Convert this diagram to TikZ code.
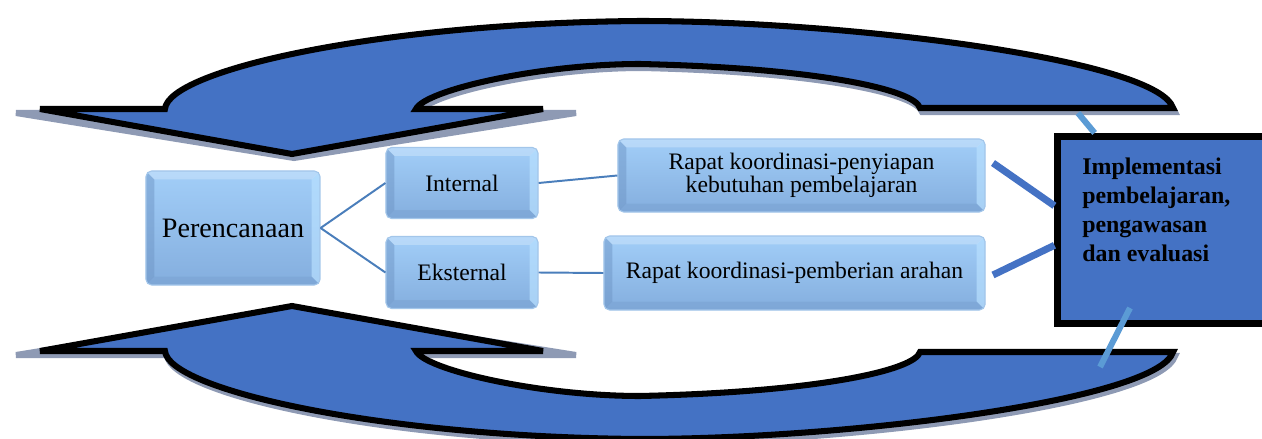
\documentclass[tikz,border=0pt]{standalone}
\usepackage{fontspec}
\setmainfont{Liberation Serif}
\usetikzlibrary{shadows}

\definecolor{birutua}{HTML}{4472C4}
\definecolor{birumuda}{HTML}{5B9BD5}
\definecolor{garis}{HTML}{4A7EBB}
\definecolor{bayang}{HTML}{8E9AB4}
\definecolor{kotakatas}{HTML}{A2CEF8}
\definecolor{kotakbawah}{HTML}{84AEDE}
\definecolor{tepikiri}{HTML}{6F96C6}
\definecolor{tepikanan}{HTML}{B8E0FF}
\definecolor{tepi}{HTML}{A3C6EA}

\newcommand{\ppbb}{path picture bounding box}
% contorno della freccia curva (x delle due punte)
\newcommand{\jalurpanah}[2]{(292,154) -- (#1,109) -- (165,109)
  .. controls (168,70) and (380,23) .. (640,21)
  .. controls (850,21) and (1158,60) .. (1173,108) -- (920,108)
  .. controls (915,90) and (820,68) .. (640,64)
  .. controls (540,64) and (425,90) .. (416,109) -- (#2,109) -- cycle}

\tikzset{
  blok/.style={rounded corners=4pt, draw=tepi, line width=.8pt,
    top color=kotakatas, bottom color=kotakbawah, align=center, inner sep=2pt,
    font=\fontsize{16.8}{16.5}\selectfont,
    path picture={
      \fill[sharp corners, tepikiri, opacity=.5] (\ppbb.north west) -- ([shift={(6pt,-6pt)}]\ppbb.north west)
        -- ([shift={(6pt,6pt)}]\ppbb.south west) -- (\ppbb.south west) -- cycle;
      \fill[sharp corners, tepikanan, opacity=.7] (\ppbb.north east) -- ([shift={(-6pt,-6pt)}]\ppbb.north east)
        -- ([shift={(-6pt,6pt)}]\ppbb.south east) -- (\ppbb.south east) -- cycle;
      \fill[sharp corners, tepikiri, opacity=.3] (\ppbb.south west) -- ([shift={(6pt,6pt)}]\ppbb.south west)
        -- ([shift={(-6pt,6pt)}]\ppbb.south east) -- (\ppbb.south east) -- cycle;
      \fill[sharp corners, white, opacity=.25] (\ppbb.north west) -- ([shift={(6pt,-6pt)}]\ppbb.north west)
        -- ([shift={(-6pt,-6pt)}]\ppbb.north east) -- (\ppbb.north east) -- cycle;
    }},
  panahbiru/.style={fill=birutua, draw=black, line width=4.3pt},
  bayangan/.style={fill=bayang, draw=bayang, line width=4.3pt},
  tipis/.style={draw=garis, line width=1.4pt},
  tebal/.style={draw=birutua, line width=5pt},
  muda/.style={draw=birumuda, line width=4.3pt}
}

\begin{document}
\begin{tikzpicture}[x=0.025cm, y=-0.025cm]
    \useasboundingbox (0,0) rectangle (1262,439);

    % Frecce del ciclo (sopra e specchiata sotto)
    \foreach \cermin/\geser/\turun in {1/0/4,-1/460/-4}{
        \begin{scope}[shift={(0,\geser)}, yscale=\cermin]
            \draw[bayangan, shift={(2,\turun)}] \jalurpanah{14}{574};
            \draw[panahbiru] \jalurpanah{40}{543};
        \end{scope}
    }

    % Blocchi
    \node[blok, minimum width=4.35cm, minimum height=2.85cm,
          font=\fontsize{20}{24}\selectfont] (pren) at (233,228) {Perencanaan};
    \node[blok, minimum width=3.8cm, minimum height=1.775cm] (intl) at (462,183) {Internal};
    \node[blok, minimum width=3.8cm, minimum height=1.8cm] (ekst) at (462,272.5) {Eksternal};
    \node[blok, minimum width=9.175cm, minimum height=1.825cm] (siap) at (801.5,175.5)
        {Rapat koordinasi-penyiapan\\kebutuhan pembelajaran};
    \node[blok, minimum width=9.525cm, minimum height=1.85cm] (arah) at (794.5,273)
        {Rapat koordinasi-pemberian arahan};

    % Implementasi
    \node[draw, line width=5pt, fill=birutua, minimum width=6.05cm, minimum height=4.675cm,
          drop shadow={shadow xshift=1pt, shadow yshift=-1.5pt, fill=bayang, opacity=.8}] (impl) at (1179,230) {};
    \node[anchor=north west, inner sep=0pt, align=left,
          font=\bfseries\fontsize{17}{20.6}\selectfont] (impltxt) at (1082,158)
        {Implementasi\\pembelajaran,\\pengawasan\\dan evaluasi};

    % Collegamenti
    \draw[tipis] (pren.east) -- (intl.west);
    \draw[tipis] (pren.east) -- (ekst.west);
    \draw[tipis] (intl.east) -- (siap.west);
    \draw[tipis] (ekst.east) -- (arah.west);

    \coordinate (s1) at (993,163);
    \coordinate (s2) at (993,275);
    \draw[tebal] (s1) -- (impl.169);
    \draw[tebal] (s2) -- (impl.187);

    \coordinate (u1) at (1078,113);
    \coordinate (u2) at (1130,308);
    \coordinate (u3) at (1100,367);
    \draw[muda] (u1) -- (impl.131);
    \draw[muda] (u2) -- (u3);
\end{tikzpicture}
\end{document}
